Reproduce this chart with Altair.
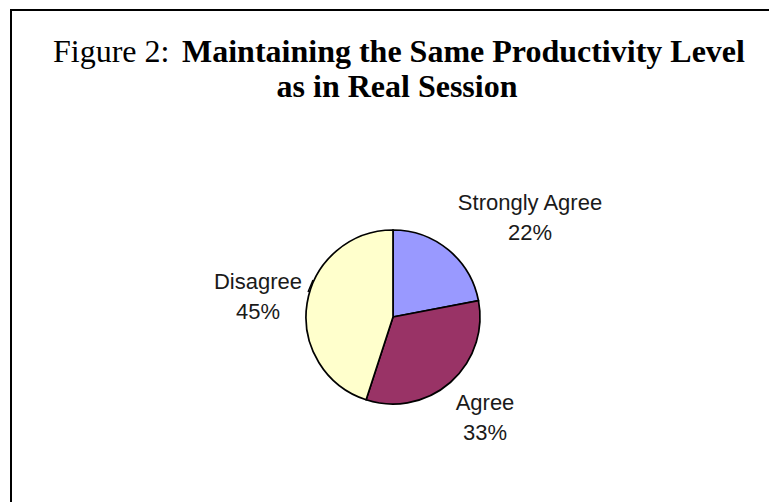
import altair as alt
import pandas as pd

# ---- data ----
categories = ["Strongly Agree", "Agree", "Disagree"]
values = [22, 33, 45]
colors = ["#9999FF", "#993366", "#FFFFCC"]
title_prefix = "Figure 2:"
title_line1 = "Maintaining the Same Productivity Level"
title_line2 = "as in Real Session"

df = pd.DataFrame({"category": categories, "value": values, "order": list(range(len(categories)))})
df["label"] = df["category"] + "\n" + df["value"].astype(str) + "%"

# ---- layout ----
W, H = 769, 502
CX, CY, R = 393, 317, 87
label_pos = {"Strongly Agree": (530, 210), "Agree": (485, 410), "Disagree": (258, 289)}

base = alt.Chart(df)
one = alt.Chart(pd.DataFrame({"k": [0]}))

pie = base.mark_arc(stroke="black", strokeWidth=1.7, outerRadius=R).encode(
    theta=alt.Theta("value:Q", stack=True),
    order=alt.Order("order:O"),
    color=alt.Color("category:N", scale=alt.Scale(domain=categories, range=colors), legend=None),
    x=alt.value(CX),
    y=alt.value(CY),
)

labels = []
for cat, (lx, ly) in label_pos.items():
    labels.append(
        base.transform_filter(alt.datum.category == cat)
        .mark_text(font="Liberation Sans", fontSize=22, lineBreak="\n", lineHeight=30,
                   align="center", baseline="alphabetic", color="#1a1a1a")
        .encode(text="label:N", x=alt.value(lx), y=alt.value(ly))
    )

leader = one.mark_rule(color="black", strokeWidth=1.4).encode(
    x=alt.value(313), y=alt.value(280), x2=alt.value(308), y2=alt.value(292)
)

t0 = one.mark_text(text=title_prefix, font="Liberation Serif", fontSize=32, align="left",
                   baseline="alphabetic", color="black").encode(x=alt.value(53), y=alt.value(62))
t1 = one.mark_text(text=title_line1, font="Liberation Serif", fontSize=32, fontWeight="bold",
                   align="left", baseline="alphabetic", color="black").encode(x=alt.value(182), y=alt.value(62))
t2 = one.mark_text(text=title_line2, font="Liberation Serif", fontSize=32, fontWeight="bold",
                   align="center", baseline="alphabetic", color="black").encode(x=alt.value(397), y=alt.value(97))

border_left = one.mark_rule(color="black", strokeWidth=2).encode(
    x=alt.value(11), y=alt.value(9), y2=alt.value(H)
)
border_top = one.mark_rule(color="black", strokeWidth=2).encode(
    x=alt.value(10), x2=alt.value(W), y=alt.value(10)
)

chart = alt.layer(pie, *labels, leader, t0, t1, t2, border_left, border_top).properties(
    width=W, height=H, padding=0, background="white",
    autosize=alt.AutoSizeParams(type="none"),
).configure_view(stroke=None)

chart.save("out.html", embed_options={"renderer": "svg", "actions": False})
